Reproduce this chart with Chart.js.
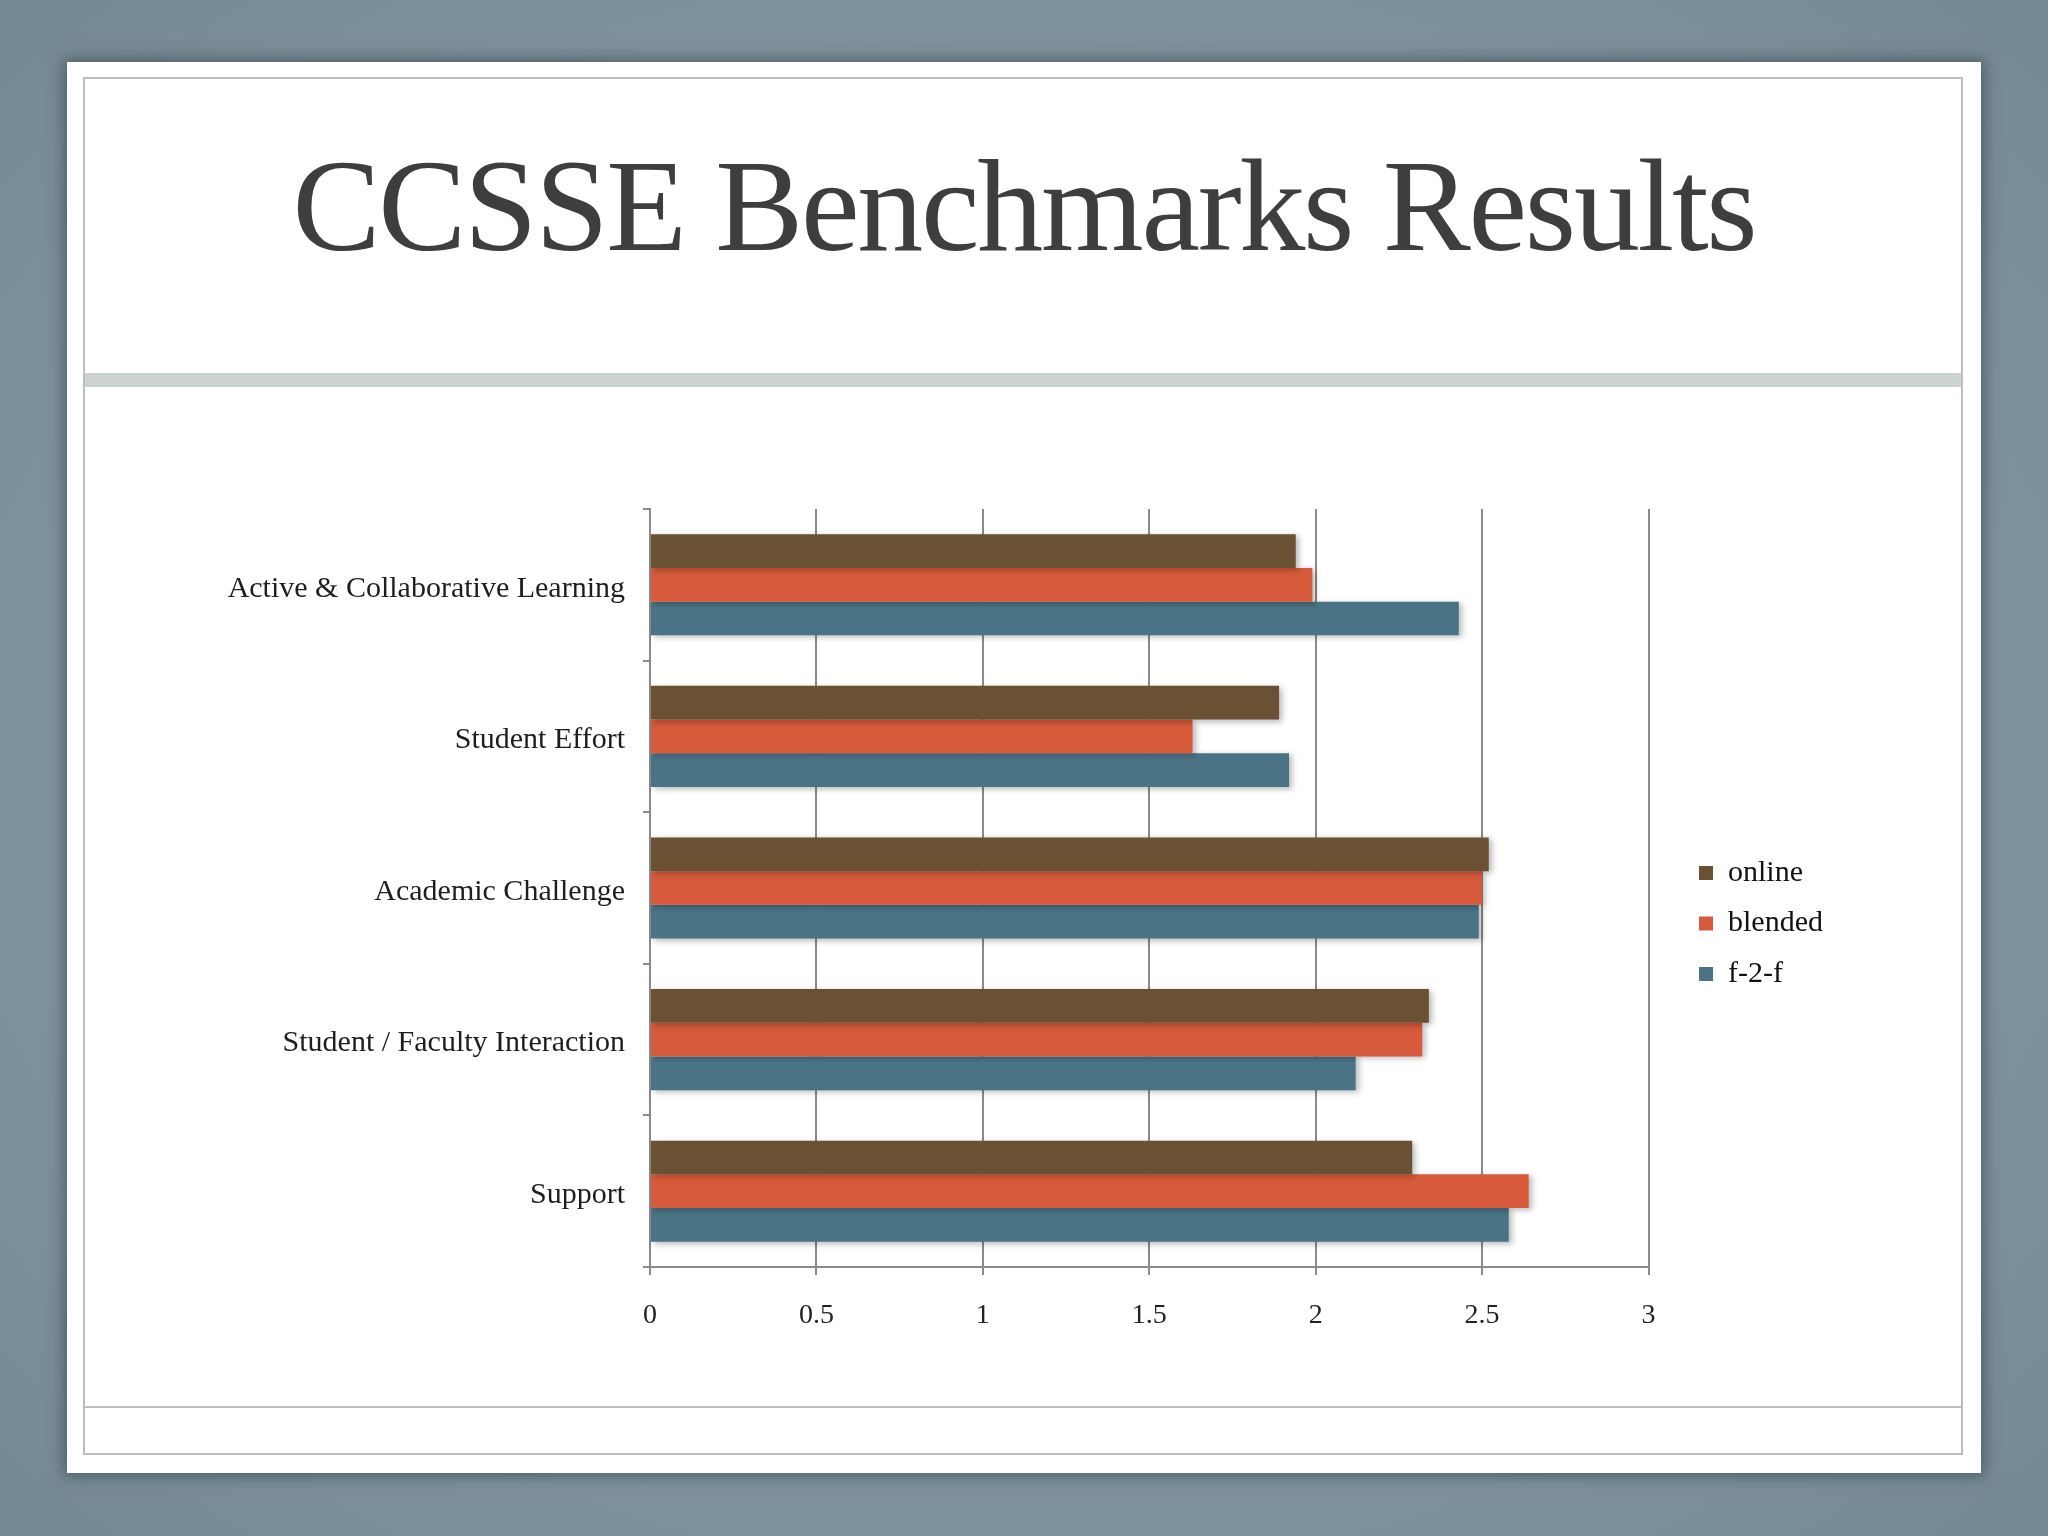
<!DOCTYPE html>
<html>
<head>
<meta charset="utf-8">
<title>CCSSE Benchmarks Results</title>
<script src="https://cdn.jsdelivr.net/npm/chart.js@4.4.1/dist/chart.umd.min.js"></script>
<style>
  html, body { margin: 0; padding: 0; }
  body {
    width: 2048px; height: 1536px; position: relative; overflow: hidden;
    background: radial-gradient(ellipse at center, #869aa4 0%, #7e929c 70%, #758993 100%);
    font-family: "Liberation Serif", "DejaVu Serif", serif;
  }
  .slide {
    position: absolute; left: 67px; top: 62px; width: 1914px; height: 1411px;
    background: #fff; box-shadow: 0 0 14px 3px rgba(40, 55, 62, 0.55);
  }
  .frame {
    position: absolute; left: 83px; top: 77px; width: 1880px; height: 1378px;
    border: 2px solid #bdbdbd; box-sizing: border-box;
  }
  .band { position: absolute; left: 85px; top: 373px; width: 1876px; height: 14px; background: #ccd3d3; }
  .divider { position: absolute; left: 85px; top: 1406px; width: 1876px; height: 2px; background: #bdbdbd; }
  h1 {
    position: absolute; left: 0; top: 140px; width: 2048px; margin: 0;
    text-align: center; font-weight: normal; font-size: 132px; line-height: 132px;
    letter-spacing: -2.3px; color: #3e3e3c;
  }
  #chart { position: absolute; left: 84px; top: 400px; }
</style>
</head>
<body>
<div class="slide"></div>
<div class="frame"></div>
<div class="band"></div>
<div class="divider"></div>
<h1>CCSSE Benchmarks Results</h1>
<canvas id="chart" width="1800" height="1000"></canvas>

<script>
// data
const categories = [
  'Active & Collaborative Learning',
  'Student Effort',
  'Academic Challenge',
  'Student / Faculty Interaction',
  'Support'
];
const online  = [1.94, 1.89, 2.52, 2.34, 2.29];
const blended = [1.99, 1.63, 2.50, 2.32, 2.64];
const f2f     = [2.43, 1.92, 2.49, 2.12, 2.58];
const xTicks  = ['0', '0.5', '1', '1.5', '2', '2.5', '3'];

const GRID = '#8a8a8a';
const serif = '"Liberation Serif", "DejaVu Serif", serif';

// soft drop shadow under the bars, like the slide
const barShadow = {
  id: 'barShadow',
  beforeDatasetsDraw(chart) {
    const c = chart.ctx;
    c.save();
    c.shadowColor = 'rgba(0,0,0,0.28)';
    c.shadowBlur = 6;
    c.shadowOffsetX = 3;
    c.shadowOffsetY = 2;
  },
  afterDatasetsDraw(chart) { chart.ctx.restore(); }
};

// push the legend a bit away from the plot
const legendGap = {
  id: 'legendGap',
  afterLayout(chart) {
    chart.legend.left += 30;
    chart.legend.right += 30;
  }
};

new Chart(document.getElementById('chart').getContext('2d'), {
  type: 'bar',
  data: {
    labels: categories,
    datasets: [
      { label: 'online',  data: online,  backgroundColor: '#6a5134' },
      { label: 'blended', data: blended, backgroundColor: '#d65a3b' },
      { label: 'f-2-f',   data: f2f,     backgroundColor: '#4a7386' }
    ]
  },
  options: {
    indexAxis: 'y',
    responsive: false,
    animation: false,
    categoryPercentage: 0.667,
    barPercentage: 1.0,
    layout: { padding: { top: 109, bottom: 62, left: 0, right: 81 } },
    plugins: {
      legend: {
        position: 'right',
        labels: {
          boxWidth: 14, boxHeight: 14, padding: 20.5,
          color: '#111', font: { family: serif, size: 30 }
        }
      },
      tooltip: { enabled: false }
    },
    scales: {
      x: {
        min: 0, max: 3,
        ticks: {
          stepSize: 0.5, padding: 24, color: '#222',
          font: { family: serif, size: 28 },
          callback: (v, i) => xTicks[i]
        },
        grid: { color: GRID, lineWidth: 2, tickLength: 8, tickColor: GRID },
        border: { color: GRID, width: 2 },
        afterFit: s => { s.height = 71; }
      },
      y: {
        ticks: { padding: 18, labelOffset: 4, color: '#1e1e1e', font: { family: serif, size: 30 } },
        grid: { drawOnChartArea: false, tickLength: 7, tickColor: GRID, lineWidth: 2 },
        border: { color: GRID, width: 2 },
        afterFit: s => { s.width = 566; }
      }
    }
  },
  plugins: [barShadow, legendGap]
});
</script>
</body>
</html>
